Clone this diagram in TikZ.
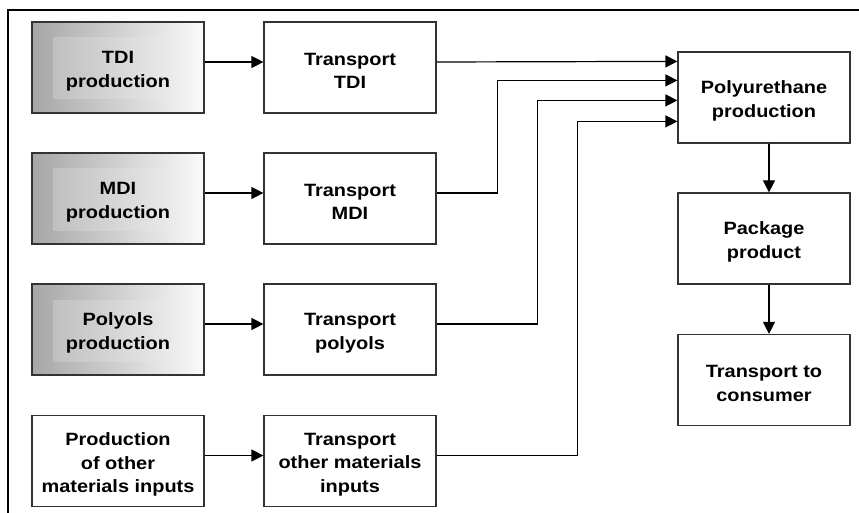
\documentclass[tikz,border=0pt]{standalone}
\usepackage{fontspec}
\setmainfont{Liberation Sans}[FakeStretch=1.12]
\usetikzlibrary{arrows.meta}
\definecolor{gdark}{RGB}{166,166,166}
\definecolor{glight}{RGB}{250,250,250}
\definecolor{idark}{RGB}{184,184,184}
\definecolor{ilight}{RGB}{246,246,246}
\begin{document}
\begin{tikzpicture}[x=1pt,y=-1pt,
  boxbase/.style={draw=black!80, line width=1.2pt, minimum width=172pt, minimum height=91pt, inner sep=0pt},
  box/.style={boxbase, fill=white},
  gbox/.style={boxbase, left color=gdark, right color=glight,
    path picture={\shade[left color=idark, right color=ilight]
      ([xshift=21pt,yshift=-16pt]path picture bounding box.north west) rectangle
      ([xshift=-21pt,yshift=14pt]path picture bounding box.south east);}},
  txt/.style={font=\fontsize{17.8}{23.7}\selectfont\bfseries, align=center, inner sep=0pt, yshift=-3.5pt},
  arr/.style={line width=1.2pt, -{Triangle[length=12pt,width=12pt]}}]
\useasboundingbox (0,0) rectangle (859,513);
\draw[line width=2pt] (8,513) -- (8,10) -- (859,10);

\node[gbox, label={[txt]center:TDI\\production}] (tdi) at (118,67.5) {};
\node[gbox, label={[txt]center:MDI\\production}] (mdi) at (118,198.5) {};
\node[gbox, label={[txt]center:Polyols\\production}] (pol) at (118,329.5) {};
\node[box, label={[txt]center:Production\\of other\\materials inputs}] (oth) at (118,461) {};

\node[box, label={[txt]center:Transport\\TDI}] (tT) at (350,67.5) {};
\node[box, label={[txt]center:Transport\\MDI}] (tM) at (350,198.5) {};
\node[box, label={[txt]center:Transport\\polyols}] (tP) at (350,329.5) {};
\node[box, label={[txt]center:Transport\\other materials\\inputs}] (tO) at (350,461) {};

\node[box, label={[txt]center:Polyurethane\\production}] (pu) at (764,97.5) {};
\node[box, label={[txt]center:Package\\product}] (pk) at (764,238.5) {};
\node[box, label={[txt]center:Transport to\\consumer}] (tc) at (764,380) {};

\draw[arr] ([yshift=5.5pt]tdi.east) -- ([yshift=5.5pt]tT.west);
\draw[arr] ([yshift=5.5pt]mdi.east) -- ([yshift=5.5pt]tM.west);
\draw[arr] ([yshift=5.5pt]pol.east) -- ([yshift=5.5pt]tP.west);
\draw[arr] ([yshift=5.5pt]oth.east) -- ([yshift=5.5pt]tO.west);

\draw[arr] ([yshift=5.5pt]tT.east) -- ([yshift=-10pt]pu.north west);
\draw[arr] ([yshift=5.5pt]tM.east) -- ++(61,0) |- ([yshift=-29pt]pu.north west);
\draw[arr] ([yshift=5.5pt]tP.east) -- ++(101,0) |- ([yshift=-49pt]pu.north west);
\draw[arr] ([yshift=5.5pt]tO.east) -- ++(141,0) |- ([yshift=-70pt]pu.north west);

\draw[arr] ([xshift=5pt]pu.south) -- ([xshift=5pt]pk.north);
\draw[arr] ([xshift=5pt]pk.south) -- ([xshift=5pt]tc.north);
\end{tikzpicture}
\end{document}
